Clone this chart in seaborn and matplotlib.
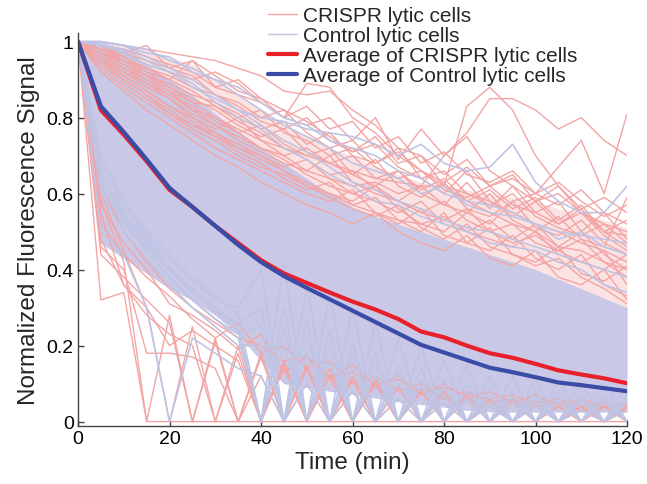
import numpy as np
import pandas as pd
import matplotlib
matplotlib.use("Agg")
import matplotlib.pyplot as plt
from matplotlib.lines import Line2D
import seaborn as sns

# sampling times (min)
TIMES = list(range(0, 125, 5))

# averages
CRISPR_AVG = [1.00, 0.82, 0.755, 0.685, 0.61, 0.565, 0.515, 0.47, 0.425, 0.39,
              0.365, 0.34, 0.316, 0.295, 0.27, 0.237, 0.222, 0.20, 0.18, 0.168,
              0.152, 0.135, 0.124, 0.114, 0.101]
CONTROL_AVG = [1.00, 0.83, 0.762, 0.69, 0.615, 0.565, 0.515, 0.465, 0.42, 0.383,
               0.352, 0.322, 0.292, 0.262, 0.232, 0.202, 0.182, 0.162, 0.142, 0.13,
               0.117, 0.103, 0.096, 0.088, 0.08]

# dense core of the control traces (upper / lower edge)
CONTROL_HI = [1.00, 1.00, 0.98, 0.94, 0.90, 0.86, 0.81, 0.765, 0.72, 0.68,
              0.64, 0.60, 0.565, 0.54, 0.52, 0.50, 0.48, 0.46, 0.44, 0.42,
              0.40, 0.375, 0.35, 0.325, 0.30]
CONTROL_LO = [1.00, 0.47, 0.43, 0.39, 0.35, 0.32, 0.28, 0.23, 0.16, 0.10,
              0.09, 0.08, 0.072, 0.062, 0.052, 0.045, 0.038, 0.03, 0.026, 0.025,
              0.025, 0.025, 0.025, 0.025, 0.025]
# dense part of the CRISPR traces sticking out above the control core
CRISPR_HI = [1.00, 1.00, 0.99, 0.98, 0.96, 0.94, 0.90, 0.86, 0.82, 0.78,
             0.75, 0.72, 0.70, 0.67, 0.65, 0.63, 0.62, 0.61, 0.60, 0.59,
             0.58, 0.56, 0.55, 0.53, 0.51]

# single CRISPR cells, upper outliers
CRISPR_UPPER = [
    [1.00, 1.00, 0.99, 0.98, 0.97, 0.96, 0.95, 0.93, 0.91, 0.87, 0.86, 0.87, 0.82, 0.78, 0.72, 0.70, 0.62, 0.58, 0.55, 0.52, 0.50, 0.46, 0.45, 0.42, 0.40],
    [1.00, 0.99, 0.96, 0.93, 0.90, 0.95, 0.88, 0.86, 0.84, 0.80, 0.89, 0.88, 0.80, 0.76, 0.70, 0.66, 0.62, 0.60, 0.58, 0.55, 0.52, 0.50, 0.47, 0.45, 0.42],
    [1.00, 0.98, 0.97, 0.94, 0.92, 0.90, 0.92, 0.89, 0.84, 0.80, 0.78, 0.80, 0.74, 0.80, 0.69, 0.77, 0.70, 0.75, 0.66, 0.62, 0.58, 0.60, 0.55, 0.52, 0.50],
    [1.00, 0.97, 0.95, 0.92, 0.88, 0.84, 0.80, 0.76, 0.72, 0.70, 0.66, 0.64, 0.62, 0.63, 0.60, 0.62, 0.62, 0.83, 0.88, 0.82, 0.70, 0.62, 0.55, 0.50, 0.46],
    [1.00, 0.96, 0.93, 0.90, 0.86, 0.82, 0.80, 0.77, 0.74, 0.72, 0.70, 0.68, 0.66, 0.64, 0.63, 0.62, 0.70, 0.76, 0.85, 0.85, 0.82, 0.77, 0.80, 0.74, 0.70],
    [1.00, 0.95, 0.91, 0.87, 0.83, 0.80, 0.76, 0.73, 0.70, 0.66, 0.63, 0.60, 0.57, 0.55, 0.53, 0.52, 0.50, 0.55, 0.52, 0.58, 0.60, 0.67, 0.74, 0.60, 0.81],
    [1.00, 0.98, 0.95, 0.91, 0.87, 0.84, 0.83, 0.79, 0.76, 0.72, 0.69, 0.65, 0.66, 0.61, 0.58, 0.62, 0.57, 0.63, 0.56, 0.62, 0.55, 0.58, 0.50, 0.55, 0.48],
    [1.00, 0.99, 0.97, 0.95, 0.93, 0.91, 0.86, 0.84, 0.80, 0.82, 0.76, 0.72, 0.74, 0.68, 0.72, 0.64, 0.60, 0.66, 0.58, 0.54, 0.58, 0.52, 0.56, 0.50, 0.53],
    [1.00, 0.97, 0.93, 0.89, 0.86, 0.83, 0.79, 0.76, 0.78, 0.73, 0.70, 0.72, 0.65, 0.62, 0.66, 0.60, 0.57, 0.55, 0.60, 0.53, 0.50, 0.54, 0.48, 0.46, 0.59],
    [1.00, 0.96, 0.92, 0.88, 0.85, 0.81, 0.78, 0.74, 0.71, 0.68, 0.66, 0.70, 0.63, 0.60, 0.58, 0.55, 0.58, 0.53, 0.50, 0.52, 0.47, 0.45, 0.48, 0.42, 0.38],
    [1.00, 0.99, 0.98, 0.96, 0.94, 0.92, 0.88, 0.90, 0.85, 0.82, 0.79, 0.75, 0.71, 0.73, 0.67, 0.64, 0.66, 0.60, 0.57, 0.60, 0.54, 0.51, 0.49, 0.52, 0.47],
    [1.00, 0.94, 0.90, 0.86, 0.82, 0.78, 0.75, 0.72, 0.69, 0.66, 0.62, 0.60, 0.58, 0.62, 0.56, 0.52, 0.54, 0.50, 0.48, 0.46, 0.50, 0.44, 0.42, 0.40, 0.44],
    [1.00, 0.97, 0.94, 0.90, 0.87, 0.82, 0.78, 0.75, 0.72, 0.69, 0.65, 0.62, 0.60, 0.58, 0.55, 0.58, 0.52, 0.50, 0.53, 0.48, 0.52, 0.46, 0.50, 0.44, 0.40],
    [1.00, 0.99, 0.97, 0.99, 0.93, 0.95, 0.91, 0.87, 0.85, 0.80, 0.83, 0.77, 0.79, 0.72, 0.75, 0.68, 0.71, 0.65, 0.63, 0.66, 0.60, 0.57, 0.61, 0.55, 0.52],
    [1.00, 0.98, 0.94, 0.91, 0.89, 0.86, 0.84, 0.81, 0.77, 0.79, 0.73, 0.76, 0.70, 0.68, 0.71, 0.66, 0.63, 0.67, 0.62, 0.65, 0.58, 0.62, 0.56, 0.59, 0.55],
    [1.00, 0.95, 0.92, 0.89, 0.85, 0.80, 0.77, 0.80, 0.74, 0.70, 0.72, 0.68, 0.70, 0.64, 0.66, 0.61, 0.64, 0.58, 0.61, 0.56, 0.59, 0.53, 0.57, 0.50, 0.49],
    [1.00, 0.93, 0.88, 0.84, 0.80, 0.76, 0.72, 0.69, 0.66, 0.63, 0.60, 0.58, 0.61, 0.55, 0.52, 0.56, 0.49, 0.47, 0.51, 0.44, 0.42, 0.46, 0.39, 0.37, 0.41],
    [1.00, 0.96, 0.91, 0.87, 0.83, 0.79, 0.75, 0.71, 0.68, 0.64, 0.61, 0.63, 0.57, 0.59, 0.53, 0.50, 0.55, 0.47, 0.45, 0.49, 0.43, 0.40, 0.44, 0.36, 0.33],
    [1.00, 0.98, 0.96, 0.92, 0.90, 0.87, 0.83, 0.80, 0.82, 0.76, 0.74, 0.70, 0.72, 0.67, 0.64, 0.66, 0.61, 0.59, 0.62, 0.57, 0.55, 0.52, 0.55, 0.49, 0.45],
    [1.00, 0.92, 0.87, 0.82, 0.78, 0.74, 0.70, 0.67, 0.63, 0.60, 0.57, 0.55, 0.52, 0.55, 0.50, 0.47, 0.45, 0.49, 0.43, 0.41, 0.45, 0.38, 0.36, 0.40, 0.32],
    [1.00, 0.99, 0.95, 0.93, 0.91, 0.88, 0.86, 0.83, 0.79, 0.77, 0.80, 0.74, 0.71, 0.75, 0.68, 0.70, 0.65, 0.69, 0.62, 0.64, 0.60, 0.63, 0.58, 0.54, 0.57],
    [1.00, 0.95, 0.90, 0.86, 0.81, 0.77, 0.74, 0.70, 0.67, 0.65, 0.62, 0.59, 0.56, 0.54, 0.57, 0.51, 0.48, 0.52, 0.46, 0.44, 0.41, 0.43, 0.38, 0.35, 0.31],
    [1.00, 0.97, 0.95, 0.91, 0.88, 0.85, 0.82, 0.78, 0.75, 0.77, 0.71, 0.68, 0.65, 0.69, 0.62, 0.59, 0.63, 0.56, 0.54, 0.58, 0.51, 0.49, 0.53, 0.47, 0.44],
    [1.00, 0.94, 0.89, 0.85, 0.81, 0.78, 0.76, 0.72, 0.70, 0.67, 0.69, 0.64, 0.60, 0.62, 0.58, 0.55, 0.53, 0.56, 0.50, 0.47, 0.49, 0.45, 0.42, 0.45, 0.36],
]

# single CRISPR cells, fast decaying ones
CRISPR_LOWER = [
    [1.00, 0.32, 0.34, 0.00, 0.00, 0.00, 0.00, 0.00, 0.00, 0.00, 0.00, 0.00, 0.00, 0.00, 0.00, 0.00, 0.00, 0.00, 0.00, 0.00, 0.00, 0.00, 0.00, 0.00, 0.00],
    [1.00, 0.46, 0.40, 0.18, 0.18, 0.17, 0.14, 0.00, 0.12, 0.00, 0.10, 0.00, 0.08, 0.00, 0.06, 0.00, 0.05, 0.00, 0.04, 0.00, 0.04, 0.00, 0.03, 0.00, 0.03],
    [1.00, 0.55, 0.36, 0.30, 0.20, 0.24, 0.20, 0.16, 0.00, 0.14, 0.00, 0.12, 0.00, 0.10, 0.00, 0.08, 0.00, 0.06, 0.00, 0.05, 0.00, 0.04, 0.00, 0.04, 0.00],
    [1.00, 0.60, 0.45, 0.30, 0.00, 0.25, 0.00, 0.20, 0.00, 0.15, 0.00, 0.12, 0.00, 0.10, 0.00, 0.08, 0.00, 0.06, 0.00, 0.05, 0.00, 0.04, 0.00, 0.04, 0.00],
    [1.00, 0.58, 0.42, 0.00, 0.28, 0.00, 0.22, 0.00, 0.18, 0.00, 0.15, 0.00, 0.12, 0.00, 0.10, 0.00, 0.08, 0.00, 0.06, 0.00, 0.05, 0.00, 0.04, 0.00, 0.04],
    [1.00, 0.52, 0.44, 0.38, 0.33, 0.27, 0.22, 0.26, 0.18, 0.20, 0.14, 0.16, 0.10, 0.12, 0.08, 0.10, 0.06, 0.08, 0.05, 0.06, 0.04, 0.05, 0.03, 0.04, 0.03],
    [1.00, 0.62, 0.50, 0.42, 0.35, 0.30, 0.26, 0.22, 0.20, 0.16, 0.17, 0.12, 0.13, 0.10, 0.11, 0.08, 0.09, 0.07, 0.06, 0.07, 0.05, 0.06, 0.04, 0.05, 0.04],
    [1.00, 0.48, 0.36, 0.28, 0.23, 0.20, 0.00, 0.18, 0.00, 0.16, 0.00, 0.14, 0.00, 0.11, 0.00, 0.09, 0.00, 0.07, 0.00, 0.06, 0.00, 0.05, 0.00, 0.04, 0.00],
    [1.00, 0.44, 0.38, 0.32, 0.26, 0.00, 0.21, 0.00, 0.17, 0.00, 0.14, 0.00, 0.11, 0.00, 0.09, 0.00, 0.07, 0.00, 0.06, 0.00, 0.05, 0.00, 0.04, 0.00, 0.04],
    [1.00, 0.57, 0.47, 0.40, 0.31, 0.28, 0.24, 0.19, 0.23, 0.13, 0.17, 0.11, 0.15, 0.09, 0.12, 0.07, 0.10, 0.06, 0.08, 0.05, 0.07, 0.04, 0.06, 0.04, 0.05],
]

# single control cells
CONTROL_CELLS = [
    [1.00, 0.99, 0.97, 0.94, 0.92, 0.88, 0.85, 0.82, 0.80, 0.79, 0.77, 0.76, 0.75, 0.73, 0.70, 0.73, 0.68, 0.66, 0.67, 0.73, 0.63, 0.58, 0.55, 0.55, 0.62],
    [1.00, 1.00, 0.99, 0.97, 0.96, 0.92, 0.90, 0.86, 0.82, 0.78, 0.75, 0.72, 0.68, 0.66, 0.64, 0.60, 0.62, 0.57, 0.55, 0.54, 0.52, 0.48, 0.50, 0.46, 0.44],
    [1.00, 0.50, 0.44, 0.30, 0.00, 0.22, 0.18, 0.14, 0.12, 0.00, 0.10, 0.00, 0.08, 0.00, 0.06, 0.00, 0.05, 0.00, 0.04, 0.00, 0.04, 0.00, 0.03, 0.00, 0.03],
    [1.00, 1.00, 0.99, 0.98, 0.95, 0.93, 0.90, 0.88, 0.84, 0.80, 0.78, 0.74, 0.72, 0.70, 0.66, 0.64, 0.60, 0.58, 0.57, 0.55, 0.52, 0.50, 0.49, 0.48, 0.47],
    [1.00, 1.00, 0.99, 0.96, 0.93, 0.90, 0.86, 0.82, 0.78, 0.74, 0.71, 0.67, 0.63, 0.61, 0.58, 0.56, 0.53, 0.51, 0.50, 0.48, 0.46, 0.44, 0.42, 0.40, 0.38],
    [1.00, 0.99, 0.98, 0.95, 0.92, 0.89, 0.84, 0.80, 0.77, 0.72, 0.69, 0.65, 0.62, 0.58, 0.57, 0.54, 0.52, 0.50, 0.47, 0.46, 0.45, 0.42, 0.40, 0.36, 0.34],
    # cells near the detection floor
    [1.00, 0.62, 0.52, 0.45, 0.38, 0.32, 0.27, 0.22, 0.00, 0.20, 0.00, 0.16, 0.00, 0.12, 0.00, 0.09, 0.00, 0.06, 0.00, 0.05, 0.00, 0.05, 0.00, 0.05, 0.00],
    [1.00, 0.66, 0.55, 0.48, 0.41, 0.35, 0.30, 0.25, 0.00, 0.30, 0.00, 0.24, 0.00, 0.18, 0.00, 0.14, 0.00, 0.10, 0.00, 0.08, 0.00, 0.08, 0.00, 0.07, 0.00],
    [1.00, 0.70, 0.58, 0.50, 0.44, 0.38, 0.33, 0.28, 0.00, 0.42, 0.00, 0.34, 0.00, 0.26, 0.00, 0.20, 0.00, 0.15, 0.00, 0.12, 0.00, 0.11, 0.00, 0.10, 0.00],
    [1.00, 0.64, 0.54, 0.47, 0.40, 0.34, 0.29, 0.24, 0.00, 0.25, 0.00, 0.20, 0.00, 0.15, 0.00, 0.11, 0.00, 0.08, 0.00, 0.065, 0.00, 0.065, 0.00, 0.06, 0.00],
    [1.00, 0.60, 0.50, 0.43, 0.36, 0.30, 0.25, 0.20, 0.20, 0.00, 0.18, 0.00, 0.14, 0.00, 0.10, 0.00, 0.07, 0.00, 0.05, 0.00, 0.05, 0.00, 0.05, 0.00, 0.05],
    [1.00, 0.64, 0.53, 0.46, 0.40, 0.34, 0.29, 0.26, 0.30, 0.00, 0.27, 0.00, 0.21, 0.00, 0.15, 0.00, 0.11, 0.00, 0.08, 0.00, 0.08, 0.00, 0.07, 0.00, 0.07],
    [1.00, 0.68, 0.57, 0.49, 0.43, 0.37, 0.32, 0.30, 0.40, 0.00, 0.36, 0.00, 0.30, 0.00, 0.22, 0.00, 0.16, 0.00, 0.12, 0.00, 0.11, 0.00, 0.10, 0.00, 0.10],
    [1.00, 0.62, 0.52, 0.45, 0.38, 0.32, 0.27, 0.23, 0.25, 0.00, 0.23, 0.00, 0.18, 0.00, 0.13, 0.00, 0.09, 0.00, 0.065, 0.00, 0.065, 0.00, 0.06, 0.00, 0.06],
]

LABELS = ["CRISPR lytic cells", "Control lytic cells",
          "Average of CRISPR lytic cells", "Average of Control lytic cells"]

PINK = "#f3a5a5"
LAV = "#c9c9e7"
LAV_LINE = "#bfc4e4"
RED = "#e8202a"
BLUE = "#3a4ca6"


def to_long(traces, prefix):
    rows = []
    for i, tr in enumerate(traces):
        assert len(tr) == len(TIMES)
        for t, v in zip(TIMES, tr):
            rows.append({"time": t, "signal": v, "cell": f"{prefix}{i}"})
    return pd.DataFrame(rows)


sns.set_style("ticks")
plt.rcParams["font.family"] = ["Liberation Sans", "DejaVu Sans"]

fig = plt.figure(figsize=(6.47, 4.85), dpi=100)
ax = fig.add_axes([0.1206, 0.12, 0.8485, 0.8093])

crispr_df = to_long(CRISPR_UPPER + CRISPR_LOWER, "crispr")
control_df = to_long(CONTROL_CELLS, "control")

ax.fill_between(TIMES, CONTROL_LO, CRISPR_HI, color=PINK, alpha=0.3, lw=0)
sns.lineplot(data=crispr_df, x="time", y="signal", units="cell", estimator=None,
             color=PINK, lw=1.0, legend=False, ax=ax)
ax.fill_between(TIMES, CONTROL_LO, CONTROL_HI, color=LAV, lw=0)
sns.lineplot(data=control_df, x="time", y="signal", units="cell", estimator=None,
             color=LAV_LINE, lw=1.2, legend=False, ax=ax)

sns.lineplot(x=TIMES, y=CRISPR_AVG, color=RED, lw=3, ax=ax)
sns.lineplot(x=TIMES, y=CONTROL_AVG, color=BLUE, lw=3, ax=ax)

ax.set_xlim(0, 120)
ax.set_ylim(-0.011, 1.022)
ax.set_xticks(range(0, 121, 20))
ax.set_yticks([0, 0.2, 0.4, 0.6, 0.8, 1.0])
ax.set_yticklabels(["0", "0.2", "0.4", "0.6", "0.8", "1"])
ax.set_xlabel("Time (min)", fontsize=17.5, labelpad=3)
ax.set_ylabel("Normalized Fluorescence Signal", fontsize=17.5, labelpad=5)
ax.tick_params(direction="in", length=4, width=1, color="#444444",
               labelcolor="black", labelsize=14, pad=3)
sns.despine(ax=ax)
for side in ("left", "bottom"):
    ax.spines[side].set_color("#444444")
    ax.spines[side].set_linewidth(1)

handles = [Line2D([], [], color=PINK, lw=1),
           Line2D([], [], color=LAV_LINE, lw=1),
           Line2D([], [], color=RED, lw=3),
           Line2D([], [], color=BLUE, lw=3)]
fig.legend(handles, LABELS, loc="upper left", bbox_to_anchor=(0.414, 0.985),
           frameon=False, fontsize=15, handlelength=1.4, handletextpad=0.3,
           labelspacing=0.05, borderpad=0, borderaxespad=0)

fig.savefig("out.png", dpi=100)
